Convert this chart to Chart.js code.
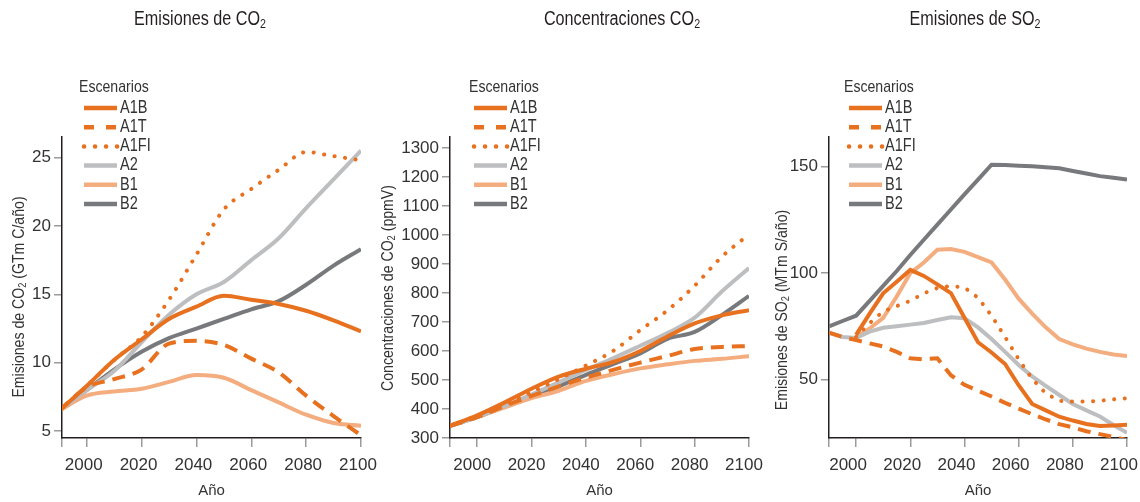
<!DOCTYPE html>
<html>
<head>
<meta charset="utf-8">
<script src="https://cdn.jsdelivr.net/npm/chart.js@4/dist/chart.umd.min.js"></script>
<style>
    body { margin: 0; background: #fff; width: 1140px; height: 502px; position: relative; overflow: hidden; }
    canvas { position: absolute; top: 0; }
</style>
</head>
<body>
<canvas id="co2Emis" width="390" height="502" style="left:0"></canvas>
<canvas id="co2Conc" width="398" height="502" style="left:372px"></canvas>
<canvas id="so2Emis" width="378" height="502" style="left:762px"></canvas>
<script>
"use strict";
const FONT = "'Liberation Sans', Arial, sans-serif";
const NARROW = 0.83; // horizontal squeeze for hand drawn texts (condensed look)
const TEXT = "#333333";
const AXIS = "#231f20";

const scenarios = ["A1B", "A1T", "A1FI", "A2", "B1", "B2"];
const scenarioColors = [
    "#e8711f", //A1B
    "#e8711f", //A1T
    "#e8711f", //A1FI
    "#bdbec0", //A2
    "#f3ad7f", //B1
    "#78797c"  //B2
];
const scenarioDash = [[], [13, 8], [0.1, 10.5], [], [], []];

const years = [1990, 2000, 2010, 2020, 2030, 2040, 2050, 2060, 2070, 2080, 2090, 2100];
const years5 = [1990, 1995, 2000, 2005, 2010, 2015, 2020, 2025, 2030, 2035, 2040, 2045,
    2050, 2055, 2060, 2065, 2070, 2075, 2080, 2085, 2090, 2095, 2100];
const yearTicks = [1990, 2000, 2020, 2040, 2060, 2080, 2100];

// Emisiones de CO2 (GTm C/año)
const co2EmA1B = [6.5, 8.3, 10.2, 11.7, 13.2, 14.1, 14.9, 14.6, 14.3, 13.8, 13.1, 12.3];
const co2EmA1T = [6.5, 8.2, 8.8, 9.5, 11.4, 11.6, 11.3, 10.3, 9.3, 7.6, 6.1, 4.7];
const co2EmA1FI = [6.5, 8.3, 10.2, 11.9, 14.6, 17.9, 21.2, 22.7, 24.1, 25.4, 25.1, 24.8];
const co2EmA2 = [6.5, 8.0, 9.4, 11.5, 13.5, 15.0, 15.9, 17.5, 19.1, 21.3, 23.4, 25.5];
const co2EmB1 = [6.5, 7.6, 7.9, 8.1, 8.6, 9.1, 8.9, 8.0, 7.1, 6.2, 5.6, 5.4];
const co2EmB2 = [6.5, 8.0, 9.5, 10.8, 11.8, 12.5, 13.2, 13.9, 14.5, 15.7, 17.1, 18.3];
const co2EmTicks = [5, 10, 15, 20, 25];

// Concentraciones de CO2 (ppmV)
const concA1B = [342, 378, 422, 470, 512, 539, 562, 600, 650, 695, 723, 741];
const concA1T = [342, 372, 410, 445, 478, 508, 535, 560, 583, 607, 614, 617];
const concA1FI = [342, 376, 415, 458, 503, 550, 600, 672, 740, 825, 925, 1002];
const concA2 = [342, 372, 410, 450, 492, 535, 575, 618, 662, 715, 805, 886];
const concB1 = [342, 373, 405, 438, 463, 497, 520, 540, 554, 566, 573, 582];
const concB2 = [342, 372, 407, 440, 478, 518, 555, 592, 642, 666, 724, 790];
const concTicks = [300, 400, 500, 600, 700, 800, 900, 1000, 1100, 1200, 1300];

// Emisiones de SO2 (MTm S/año), cada 5 años
const so2A1B = [null, null, 71, 81, 90.5, 96, 101.5, 98.7, 94.7, 90.6, 79, 67.5,
    62.7, 57.3, 47.3, 38.5, 35.5, 32.5, 30.7, 29.1, 28.2, 28.4, 28.7];
const so2A1T = [72, 70, 68.5, 67, 65.5, 63, 60, 59.5, 60, 52, 47.5, 44.7,
    42, 39, 36.3, 33.7, 31.2, 29, 27.5, 25.7, 24.3, 23, 21.5];
const so2A1FI = [null, null, 70, 76.5, 82, 84.5, 87, 90.5, 93, 94, 93.2, 88.5,
    80, 70, 59.5, 50.3, 43.5, 40, 39.6, 39.6, 40, 40.7, 41.2];
const so2A2 = [72, 70, 69.5, 72.5, 74.3, 75, 75.8, 76.6, 78, 79.3, 78.8, 74.5,
    69, 63, 56.8, 51.5, 47, 42.7, 38.5, 35.5, 32.6, 28.6, 25];
const so2B1 = [null, null, 70, 74, 79, 89, 100, 105, 111, 111.3, 110, 107.5,
    105, 97, 88, 81, 74.5, 69, 66.5, 64.5, 63, 61.8, 61];
const so2B2 = [75, 77.5, 80, 87, 94, 101, 108.5, 115.7, 122.8, 129.9, 137, 144,
    151, 150.8, 150.5, 150.2, 149.8, 149.3, 148, 146.8, 145.6, 144.8, 144];
const so2Ticks = [50, 100, 150];

Chart.defaults.font.family = FONT;
Chart.defaults.color = TEXT;

// text squeezed sideways, with a small lowered "2" where the string has "₂"
function drawSub(ctx, text, x, y, size, align) {
    const parts = text.split("₂");
    const subSize = size * 0.66;
    ctx.font = size + "px " + FONT;
    let total = 0;
    parts.forEach(p => { total += ctx.measureText(p).width; });
    ctx.font = subSize + "px " + FONT;
    const subW = ctx.measureText("2").width;
    total += subW * (parts.length - 1);
    ctx.save();
    ctx.translate(x, y);
    ctx.scale(NARROW, 1);
    let cx = align === "center" ? -total / 2 : 0;
    ctx.textAlign = "left";
    ctx.textBaseline = "middle";
    parts.forEach((p, i) => {
        ctx.font = size + "px " + FONT;
        ctx.fillText(p, cx, 0);
        cx += ctx.measureText(p).width;
        if (i < parts.length - 1) {
            ctx.font = subSize + "px " + FONT;
            ctx.fillText("2", cx, size * 0.22);
            cx += subW;
        }
    });
    ctx.restore();
}

const panelText = {
    id: "panelText",
    afterDraw(chart, args, o) {
        const ctx = chart.ctx;
        ctx.save();
        ctx.fillStyle = AXIS;
        drawSub(ctx, o.title, o.titleX, 20, 19.5, "center");

        ctx.save();
        ctx.translate(o.yTitleX, o.yTitleY);
        ctx.rotate(-Math.PI / 2);
        ctx.fillStyle = TEXT;
        drawSub(ctx, o.yTitle, 0, 0, 17, "center");
        ctx.restore();

        // legend
        ctx.fillStyle = TEXT;
        drawSub(ctx, "Escenarios", o.legX, 87, 17, "left");
        chart.data.datasets.forEach((ds, i) => {
            const y = 108 + i * 19.2;
            ctx.save();
            ctx.strokeStyle = ds.borderColor;
            ctx.lineWidth = 4.5;
            if (i === 1) ctx.setLineDash([10, 12]);
            if (i === 2) { ctx.setLineDash([0.1, 10.9]); ctx.lineCap = "round"; }
            ctx.beginPath();
            ctx.moveTo(o.legX + 5, y);
            ctx.lineTo(o.legX + (i === 2 ? 39 : 38), y);
            ctx.stroke();
            ctx.restore();
            drawSub(ctx, ds.label, o.legX + 41, y, 17.5, "left");
        });
        ctx.restore();
    }
};

function makeDatasets(xs, series, smooth) {
    return scenarios.map((name, i) => ({
        label: name,
        data: xs.map((x, j) => ({ x: x, y: series[i][j] })),
        borderColor: scenarioColors[i],
        borderWidth: 4,
        borderDash: scenarioDash[i],
        borderCapStyle: i === 2 ? "round" : "butt",
        pointRadius: 0,
        fill: false,
        cubicInterpolationMode: smooth ? "monotone" : "default"
    }));
}

function makePanel(id, p) {
    return new Chart(id, {
        type: "line",
        data: { datasets: makeDatasets(p.xs, p.series, p.smooth) },
        options: {
            responsive: false,
            animation: false,
            layout: { padding: { top: 137, right: p.padRight, bottom: 0, left: 0 } },
            plugins: {
                legend: { display: false },
                tooltip: { enabled: false },
                panelText: p.text
            },
            scales: {
                x: {
                    type: "linear",
                    min: p.xMin,
                    max: 2100,
                    afterBuildTicks: s => { s.ticks = yearTicks.map(v => ({ value: v < 2000 ? p.xMin : v })); },
                    afterFit: s => { s.height = 64; s.paddingLeft = 0; s.paddingRight = 0; },
                    ticks: {
                        callback: v => (v < 2000 ? "" : String(v)),
                        font: { size: 17 },
                        color: TEXT,
                        padding: 8,
                        maxRotation: 0,
                        autoSkip: false,
                        labelOffset: p.labelShift
                    },
                    grid: { drawOnChartArea: false, tickLength: 9, color: "#9b9b9b", lineWidth: 1.5 },
                    border: { color: AXIS, width: 1.5 },
                    title: { display: true, text: "Año", font: { size: 15 }, color: TEXT, padding: { top: 0, bottom: 2 } }
                },
                y: {
                    min: p.yMin,
                    max: p.yMax,
                    afterBuildTicks: s => { s.ticks = p.yTicks.map(v => ({ value: v })); },
                    afterFit: s => { s.width = p.yWidth; s.paddingTop = 0; s.paddingBottom = 0; },
                    ticks: { callback: v => String(v), font: { size: 17 }, color: TEXT, padding: 3 },
                    grid: { drawOnChartArea: false, tickLength: 8, color: "#9b9b9b", lineWidth: 1.5 },
                    border: { color: AXIS, width: 1.5 }
                }
            }
        },
        plugins: [panelText]
    });
}

makePanel("co2Emis", {
    xs: years, smooth: true, xMin: 1991, labelShift: -3,
    series: [co2EmA1B, co2EmA1T, co2EmA1FI, co2EmA2, co2EmB1, co2EmB2],
    yMin: 4.5, yMax: 26.5, yTicks: co2EmTicks, yWidth: 62, padRight: 29,
    text: { title: "Emisiones de CO₂", titleX: 200, yTitle: "Emisiones de CO₂ (GTm C/año)", yTitleX: 19, yTitleY: 297, legX: 79 }
});

makePanel("co2Conc", {
    xs: years, smooth: true, xMin: 1990, labelShift: -5,
    series: [concA1B, concA1T, concA1FI, concA2, concB1, concB2],
    yMin: 300, yMax: 1338, yTicks: concTicks, yWidth: 78, padRight: 21,
    text: { title: "Concentraciones CO₂", titleX: 250, yTitle: "Concentraciones de CO₂ (ppmV)", yTitleX: 16, yTitleY: 288, legX: 97 }
});

makePanel("so2Emis", {
    xs: years5, smooth: false, xMin: 1990, labelShift: -8,
    series: [so2A1B, so2A1T, so2A1FI, so2A2, so2B1, so2B2],
    yMin: 22.5, yMax: 164, yTicks: so2Ticks, yWidth: 67, padRight: 13,
    text: { title: "Emisiones de SO₂", titleX: 213, yTitle: "Emisiones de SO₂ (MTm S/año)", yTitleX: 20, yTitleY: 310, legX: 82 }
});
</script>
</body>
</html>
